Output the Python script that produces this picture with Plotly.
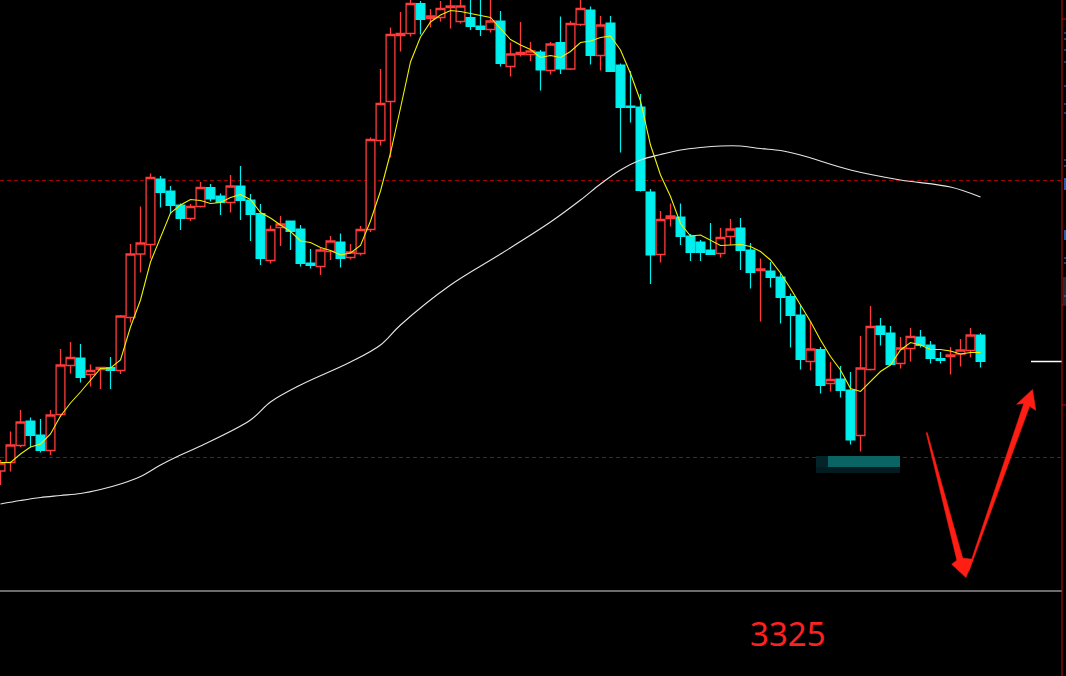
import plotly.graph_objects as go

W, H = 1066, 676

# ---------------- data ----------------
candle_idx = list(range(99))

open_ = [3345.8, 3347.5, 3350.9, 3355.8, 3353.0, 3349.9, 3357.1, 3366.9, 3368.4, 3365.1,
         3366.1, 3366.5, 3365.9, 3376.5, 3389.2, 3391.1, 3404.2, 3401.8, 3399.0, 3396.3,
         3398.7, 3402.5, 3400.8, 3399.5, 3402.8, 3400.0, 3397.3, 3387.9, 3394.5, 3395.8,
         3394.2, 3387.4, 3386.7, 3389.7, 3391.6, 3388.5, 3389.3, 3394.1, 3411.9, 3419.7,
         3432.9, 3433.3, 3439.3, 3436.3, 3436.5, 3438.5, 3435.7, 3436.5, 3434.8, 3434.1,
         3435.8, 3426.7, 3429.1, 3429.1, 3429.6, 3425.9, 3431.5, 3426.2, 3435.1, 3438.0,
         3428.9, 3435.4, 3427.0, 3418.8, 3418.6, 3401.6, 3389.1, 3396.3, 3396.6, 3392.8,
         3391.6, 3390.0, 3389.3, 3392.7, 3394.4, 3390.0, 3385.9, 3385.8, 3384.6, 3380.7,
         3377.0, 3367.7, 3370.1, 3363.3, 3364.2, 3362.0, 3352.9, 3366.1, 3374.8, 3373.4,
         3367.3, 3370.3, 3372.6, 3371.0, 3368.3, 3368.7, 3369.2, 3369.9, 3373.0]

high = [3348.0, 3353.7, 3358.0, 3356.5, 3356.2, 3358.0, 3370.2, 3371.6, 3371.2, 3367.1,
        3366.5, 3368.6, 3377.0, 3391.2, 3398.7, 3405.3, 3404.8, 3402.8, 3399.3, 3399.2,
        3403.6, 3403.2, 3401.3, 3405.0, 3406.8, 3401.2, 3399.2, 3394.9, 3396.8, 3395.8,
        3395.0, 3390.2, 3390.4, 3392.8, 3393.3, 3391.2, 3394.8, 3412.5, 3426.2, 3434.5,
        3437.6, 3440.0, 3439.8, 3438.2, 3439.8, 3440.0, 3440.0, 3440.0, 3440.0, 3440.0,
        3437.8, 3431.5, 3435.6, 3431.6, 3430.0, 3431.6, 3436.7, 3435.8, 3440.0, 3438.7,
        3436.8, 3436.8, 3427.3, 3425.8, 3421.2, 3402.2, 3397.8, 3399.3, 3399.3, 3393.2,
        3392.0, 3395.4, 3394.4, 3396.2, 3396.4, 3391.4, 3388.3, 3387.6, 3385.3, 3381.3,
        3379.0, 3375.8, 3370.6, 3367.6, 3366.8, 3365.6, 3372.8, 3378.8, 3376.4, 3374.8,
        3372.6, 3374.4, 3374.0, 3371.8, 3369.6, 3370.6, 3372.2, 3374.4, 3373.4]

low = [3343.0, 3345.7, 3350.6, 3350.5, 3349.5, 3349.0, 3356.6, 3365.3, 3363.5, 3362.7,
       3362.2, 3362.2, 3365.2, 3375.5, 3385.5, 3388.3, 3398.5, 3397.2, 3394.0, 3395.8,
       3398.5, 3399.7, 3397.0, 3397.5, 3396.0, 3391.8, 3387.0, 3387.3, 3390.8, 3390.0,
       3386.7, 3386.3, 3385.0, 3388.0, 3386.5, 3388.1, 3388.9, 3393.6, 3410.9, 3408.5,
       3429.7, 3432.7, 3433.1, 3434.5, 3435.7, 3434.3, 3435.3, 3434.0, 3432.8, 3433.5,
       3426.7, 3424.7, 3428.7, 3427.8, 3421.9, 3425.1, 3425.2, 3426.0, 3434.8, 3427.1,
       3425.9, 3425.7, 3409.5, 3415.5, 3401.7, 3383.2, 3387.5, 3394.7, 3391.0, 3387.8,
       3387.8, 3389.1, 3388.5, 3391.0, 3386.0, 3382.3, 3375.7, 3382.5, 3375.3, 3370.5,
       3366.1, 3365.9, 3361.3, 3361.7, 3360.5, 3351.1, 3349.7, 3365.9, 3370.9, 3367.1,
       3366.3, 3367.7, 3370.5, 3367.3, 3367.3, 3365.1, 3366.7, 3368.5, 3366.5]

close = [3347.4, 3351.0, 3355.6, 3352.9, 3349.9, 3357.0, 3367.0, 3368.5, 3364.5, 3365.9,
         3366.5, 3365.9, 3376.8, 3389.2, 3391.4, 3404.5, 3401.5, 3398.9, 3396.3, 3398.7,
         3402.5, 3400.2, 3399.5, 3402.8, 3399.9, 3397.1, 3388.3, 3394.1, 3395.2, 3393.7,
         3387.3, 3386.9, 3390.0, 3391.8, 3388.3, 3389.6, 3394.1, 3412.1, 3419.3, 3433.1,
         3433.3, 3439.3, 3436.1, 3436.8, 3438.3, 3438.8, 3438.8, 3434.7, 3434.1, 3435.8,
         3427.3, 3429.2, 3429.5, 3429.8, 3426.0, 3431.2, 3426.2, 3435.3, 3438.3, 3428.9,
         3435.0, 3425.7, 3418.5, 3418.5, 3401.9, 3389.0, 3396.1, 3396.8, 3392.7, 3389.5,
         3389.5, 3389.1, 3392.5, 3394.2, 3389.9, 3385.5, 3386.2, 3384.5, 3380.5, 3376.9,
         3368.1, 3370.2, 3362.9, 3364.1, 3361.9, 3352.0, 3366.4, 3374.7, 3373.1, 3367.1,
         3370.4, 3372.7, 3370.9, 3368.3, 3367.9, 3369.0, 3370.0, 3373.0, 3367.7]

ma_fast = [3347.5, 3347.5, 3349.2, 3350.6, 3351.2, 3353.2, 3356.8, 3359.4, 3361.6, 3364.0,
           3366.3, 3366.4, 3368.0, 3374.6, 3380.0, 3387.6, 3392.6, 3397.4, 3399.0, 3400.1,
           3399.9, 3399.3, 3399.5, 3400.5, 3401.1, 3400.1, 3397.5, 3396.4, 3395.0, 3393.7,
           3391.8, 3391.5, 3390.5, 3389.9, 3389.0, 3389.4, 3390.9, 3395.8, 3401.8, 3409.4,
           3418.4, 3427.6, 3432.6, 3435.6, 3437.0, 3437.9, 3437.7, 3437.3, 3437.0, 3436.5,
           3434.3, 3432.1, 3431.0, 3430.1, 3428.5, 3428.9, 3428.5, 3429.7, 3431.5, 3431.8,
           3432.5, 3432.8, 3430.0, 3425.3, 3419.8, 3411.0, 3405.0, 3400.7, 3395.3, 3392.8,
           3393.0, 3392.0, 3390.9, 3391.0, 3391.1, 3390.7, 3389.7, 3388.0, 3385.4, 3382.3,
           3379.0, 3375.7, 3372.0, 3368.7, 3366.0, 3362.3, 3361.7, 3363.7, 3365.7, 3367.0,
           3370.0, 3371.5, 3371.0, 3370.1, 3370.1, 3369.8, 3369.2, 3369.5, 3369.5]

ma_slow_idx = [0, 2, 4, 6, 8, 10, 12, 14, 16, 18, 20, 25, 27, 30, 35, 38, 40, 45, 50, 55,
               58, 60, 62, 64, 66, 68, 70, 72, 74, 76, 78, 80, 85, 90, 95, 98]
ma_slow = [3339.2, 3339.9, 3340.5, 3340.9, 3341.3, 3342.1, 3343.2, 3344.7, 3347.0, 3349.0,
           3350.8, 3356.0, 3359.6, 3363.0, 3367.6, 3371.0, 3375.0, 3383.0, 3389.2, 3395.6,
           3400.0, 3403.2, 3406.0, 3408.0, 3409.1, 3410.0, 3410.5, 3410.8, 3410.8, 3410.3,
           3409.9, 3409.0, 3406.0, 3404.0, 3402.6, 3400.6]

level_upper = 3403.9
level_lower = 3348.5
last_price = 3367.7
target_label = "3325"

# ---------------- helpers for annotation geometry (pixel -> paper) ----------------
def fx(p):
    return p / W

def fy(p):
    return 1 - p / H

def path_from(points):
    s = "M " + " L ".join(f"{fx(a):.5f},{fy(b):.5f}" for a, b in points) + " Z"
    return s

RED = "#ff3b3b"
CYAN = "#00f0f0"

fig = go.Figure()
fig.add_trace(go.Candlestick(
    x=candle_idx, open=open_, high=high, low=low, close=close,
    increasing=dict(line=dict(color=RED, width=1.3), fillcolor="#000000"),
    decreasing=dict(line=dict(color=CYAN, width=1.2), fillcolor=CYAN),
    whiskerwidth=0, showlegend=False, hoverinfo="skip",
))
fig.add_trace(go.Scatter(x=candle_idx, y=ma_fast, mode="lines",
                         line=dict(color="#f0f000", width=1.1), showlegend=False, hoverinfo="skip"))
fig.add_trace(go.Scatter(x=ma_slow_idx, y=ma_slow, mode="lines", line_shape="spline",
                         line=dict(color="#e6e6e6", width=1.1), showlegend=False, hoverinfo="skip"))

shapes = []
# dotted red levels
for lv in (level_upper, level_lower):
    shapes.append(dict(type="line", xref="paper", yref="y", x0=0, x1=fx(1062), y0=lv, y1=lv,
                       line=dict(color="#a00000", width=1, dash="4px,3px"), layer="below"))
# pane bottom line
shapes.append(dict(type="line", xref="paper", yref="paper", x0=0, x1=fx(1062), y0=fy(591), y1=fy(591),
                   line=dict(color="#d8d8d8", width=1)))
# current price marker line
shapes.append(dict(type="line", xref="paper", yref="y", x0=fx(1031), x1=fx(1062), y0=last_price, y1=last_price,
                   line=dict(color="#ffffff", width=1.5)))
# right axis border
shapes.append(dict(type="line", xref="paper", yref="paper", x0=fx(1062), x1=fx(1062), y0=0, y1=1,
                   line=dict(color="#c01010", width=1)))
for yy in (19, 305, 405):
    shapes.append(dict(type="line", xref="paper", yref="paper", x0=fx(1062), x1=1, y0=fy(yy), y1=fy(yy),
                       line=dict(color="#c01010", width=1)))
shapes.append(dict(type="rect", xref="paper", yref="paper", x0=fx(1063), x1=1, y0=fy(305), y1=fy(277),
                   fillcolor="#2a2a2a", line=dict(width=0)))
for yy in (33, 39, 50, 62, 86, 104, 113, 160, 166, 258, 263, 296):
    shapes.append(dict(type="line", xref="paper", yref="paper", x0=fx(1064), x1=1, y0=fy(yy), y1=fy(yy),
                       line=dict(color="#3a7fd0", width=1)))
for y0_, y1_ in ((178, 190), (230, 240)):
    shapes.append(dict(type="rect", xref="paper", yref="paper", x0=fx(1064), x1=1, y0=fy(y1_), y1=fy(y0_),
                       fillcolor="#1f5fb0", line=dict(width=0)))
# teal marker block
shapes.append(dict(type="rect", xref="paper", yref="paper", x0=fx(816), x1=fx(900), y0=fy(473), y1=fy(456),
                   fillcolor="#021c1f", line=dict(width=0)))
shapes.append(dict(type="rect", xref="paper", yref="paper", x0=fx(828), x1=fx(900), y0=fy(467), y1=fy(456),
                   fillcolor="#0a6464", line=dict(width=0)))
shapes.append(dict(type="rect", xref="paper", yref="paper", x0=fx(816), x1=fx(828), y0=fy(467), y1=fy(456),
                   fillcolor="#03252a", line=dict(width=0)))
# hand-drawn red arrows
down_arrow = [(926.2, 432.8), (956.9, 560.2), (951.7, 564.2), (966.0, 577.5),
              (972.7, 559.3), (962.7, 558.2), (927.2, 432.6)]
up_arrow = [(967.8, 571.0), (1023.8, 403.4), (1016.7, 404.2), (1032.5, 389.5),
            (1035.7, 410.3), (1029.6, 406.2), (968.8, 571.4)]
for pts in (down_arrow, up_arrow):
    shapes.append(dict(type="path", xref="paper", yref="paper", path=path_from(pts),
                       fillcolor="#ff1e14", line=dict(color="#ff1e14", width=0.6)))

fig.update_layout(
    width=W, height=H, autosize=False,
    margin=dict(l=0, r=0, t=0, b=0, pad=0),
    paper_bgcolor="#000000", plot_bgcolor="#000000",
    showlegend=False, boxgap=0.12, boxgroupgap=0,
    xaxis=dict(range=[-0.05, 106.55], visible=False, showgrid=False, zeroline=False,
               rangeslider=dict(visible=False), fixedrange=True),
    yaxis=dict(range=[3440 - H * 0.2, 3440], visible=False, showgrid=False, zeroline=False,
               fixedrange=True),
    shapes=shapes,
    annotations=[dict(text=target_label, xref="paper", yref="paper", x=fx(787.5), y=fy(633),
                      xanchor="center", yanchor="middle", showarrow=False,
                      font=dict(family="Noto Sans", size=33, color="#ff2020"))],
)

fig.write_html("out.html", config={"displayModeBar": False},
               post_script="document.body.style.margin='0';document.body.style.background='#000';")
